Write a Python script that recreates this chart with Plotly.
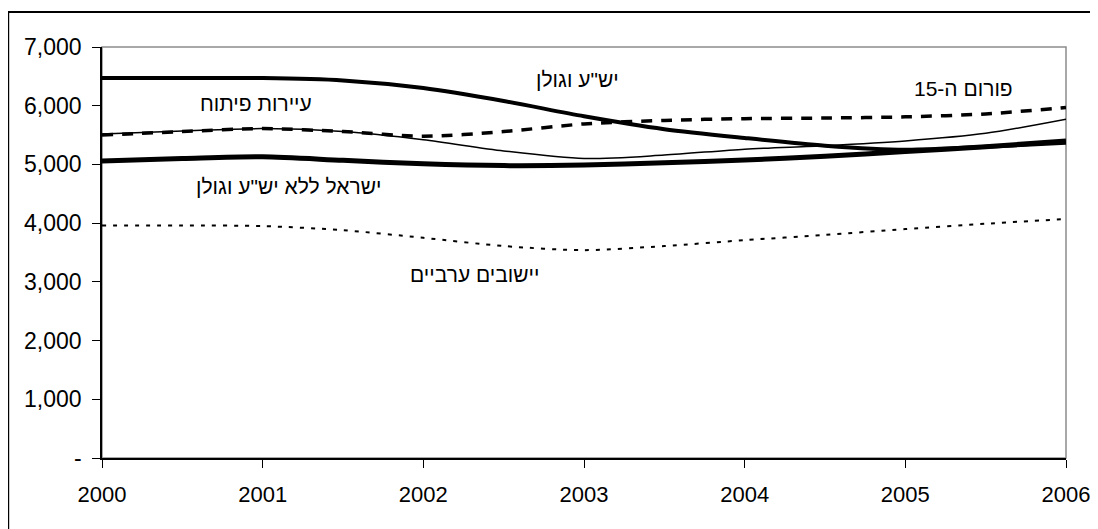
import plotly.graph_objects as go

years = [2000, 2000.5, 2001, 2001.5, 2002, 2002.5, 2003, 2003.5, 2004, 2004.5, 2005, 2005.5, 2006]

yesha = [6470, 6470, 6470, 6430, 6300, 6080, 5820, 5600, 5450, 5320, 5250, 5300, 5370]
israel = [5060, 5100, 5130, 5070, 5010, 4980, 4990, 5030, 5075, 5140, 5220, 5300, 5400]
dev_towns = [5520, 5570, 5610, 5560, 5420, 5230, 5100, 5160, 5260, 5320, 5400, 5530, 5770]
forum15 = [5500, 5560, 5610, 5560, 5480, 5560, 5690, 5750, 5780, 5790, 5810, 5860, 5970]
arab = [3960, 3960, 3950, 3880, 3750, 3610, 3540, 3610, 3710, 3800, 3900, 3990, 4070]

names = ['יש"ע וגולן', 'ישראל ללא יש"ע וגולן', 'עיירות פיתוח', 'פורום ה-15', 'יישובים ערביים']

y_ticks = [0, 1000, 2000, 3000, 4000, 5000, 6000, 7000]
y_ticktext = ['-', '1,000', '2,000', '3,000', '4,000', '5,000', '6,000', '7,000']
x_ticks = [2000, 2001, 2002, 2003, 2004, 2005, 2006]

# label positions (data coords)
label_x = [2002.96, 2001.16, 2000.96, 2005.36, 2002.32]
label_y = [6440, 4630, 6030, 6300, 3130]

FONT = "Liberation Sans, Arial, sans-serif"

fig = go.Figure()
styles = [
    dict(width=4, dash="solid"),
    dict(width=5, dash="solid"),
    dict(width=1.5, dash="solid"),
    dict(width=3.5, dash="11px,9px"),
    dict(width=2, dash="4px,7px"),
]
series = [yesha, israel, dev_towns, forum15, arab]
order = [4, 2, 3, 0, 1]
for i in order:
    fig.add_trace(go.Scatter(
        x=years, y=series[i], mode="lines", name=names[i],
        line=dict(color="black", shape="spline", smoothing=0.8, **styles[i]),
        showlegend=False, hoverinfo="skip"))

for t, x, y in zip(names, label_x, label_y):
    fig.add_annotation(x=x, y=y, text=t, showarrow=False,
                       font=dict(family=FONT, size=21, color="black"))

# plot area border (gray) and outer chart border (black)
fig.add_shape(type="rect", xref="paper", yref="paper", x0=0, y0=0, x1=1, y1=1,
              line=dict(color="#8c8c8c", width=1.5), layer="below")
fig.add_shape(type="rect", xref="paper", yref="paper", x0=-0.0973, y0=-0.4, x1=1.2, y1=1.0852,
              line=dict(color="black", width=2), layer="below")

fig.update_layout(
    width=1098, height=529,
    margin=dict(l=94, r=40, t=39, b=79),
    paper_bgcolor="white", plot_bgcolor="white",
    font=dict(family=FONT, size=22, color="black"),
    xaxis=dict(range=[2000, 2006], tickvals=x_ticks, ticktext=[str(v) for v in x_ticks],
               showgrid=False, zeroline=False, showline=True, linecolor="black", linewidth=1.5,
               ticks="outside", ticklen=8, tickcolor="black", tickwidth=1.2,
               ticklabelstandoff=8, tickfont=dict(size=22)),
    yaxis=dict(range=[0, 7000], tickvals=y_ticks, ticktext=y_ticktext,
               showgrid=False, zeroline=False, showline=True, linecolor="black", linewidth=1.5,
               ticks="outside", ticklen=8, tickcolor="black", tickwidth=1.2,
               ticklabelstandoff=6, tickfont=dict(size=23)),
)

fig.write_html("out.html")
